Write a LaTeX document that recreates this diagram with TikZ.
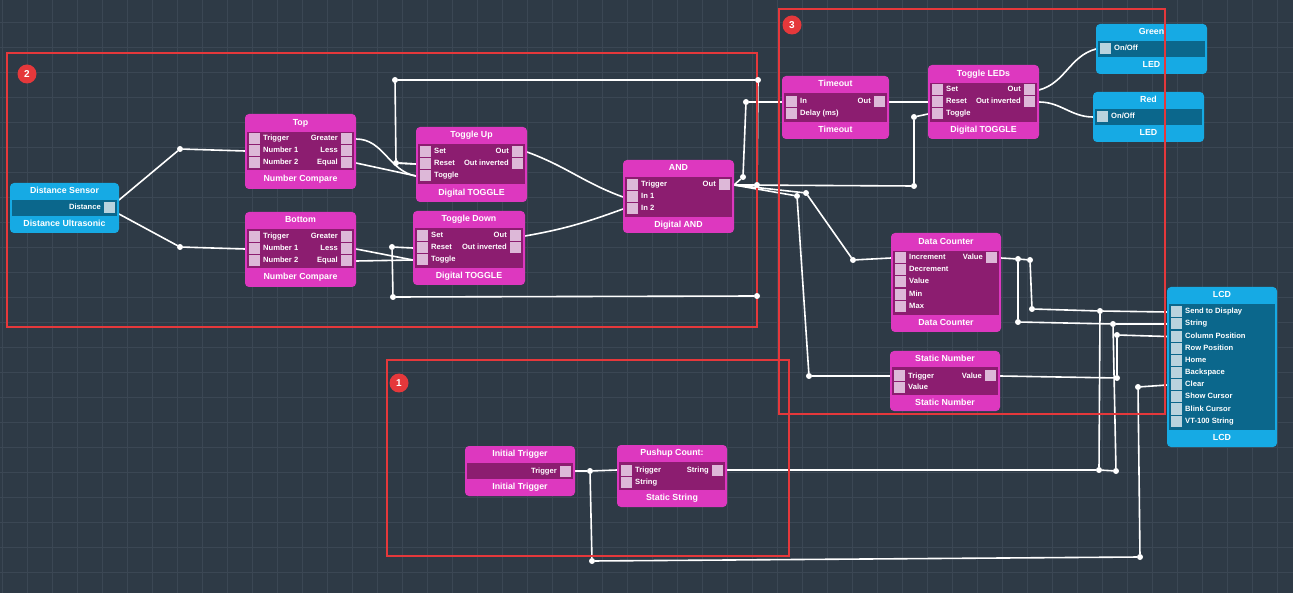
\documentclass[tikz,border=0pt]{standalone}
\usepackage{fontspec}
\setmainfont{Liberation Sans}
\usetikzlibrary{fit}
\definecolor{bgc}{HTML}{2E3A46}
\definecolor{gridc}{HTML}{3B4754}
\definecolor{magA}{HTML}{DD38BF}
\definecolor{magB}{HTML}{8C1D70}
\definecolor{magP}{HTML}{DDB8D8}
\definecolor{bluA}{HTML}{16AAE4}
\definecolor{bluB}{HTML}{0B678C}
\definecolor{bluP}{HTML}{B9D3DE}
\definecolor{framec}{HTML}{E5383B}
\pgfdeclarelayer{bg}
\pgfdeclarelayer{wires}
\pgfdeclarelayer{frames}
\pgfdeclarelayer{dots}
\pgfsetlayers{bg,wires,main,frames,dots}
\tikzset{
  boxnode/.style={inner sep=0pt, rounded corners=4pt},
  titletxt/.style={text=white, font=\bfseries\fontsize{8.8}{10}\selectfont, inner sep=0pt, text height=6.4pt, text depth=1.8pt},
  portlbl/.style={text=white, font=\bfseries\fontsize{7.6}{9}\selectfont, inner sep=0pt, text height=5.6pt, text depth=1.6pt},
  portsq/.style={inner sep=0pt, minimum size=11pt, fill=portc},
  wire/.style={draw=white, line width=1.6pt, line join=round, line cap=round},
  jdot/.style={circle, fill=white, inner sep=0pt, minimum size=6pt},
  redframe/.style={draw=framec, line width=2.6pt},
  badge/.style={circle, fill=framec, text=white, font=\bfseries\fontsize{10}{12}\selectfont, minimum size=19pt, inner sep=0pt},
}
\newcommand\mkblock[9]{%
  \node[boxnode, fill=boxc, fit={(#2,#3)(#4,#5)}] (#1) {};
  \fill[bandc] (#2+2,#8) rectangle (#4-2.5,#9);
  \node[titletxt] (#1-t) at ({(#2+#4)/2},{(#3+#8)/2}) {#6};
  \node[titletxt] (#1-f) at ({(#2+#4)/2},{(#9+#5)/2}) {#7};
}
\newcommand\inport[4]{%
  \node[portsq] (#1-sq) at (#2+9.5,#3) {};
  \node[portlbl, anchor=west] (#1-lbl) at (#2+18,#3) {#4};
  \coordinate (#1) at (#2,#3);
}
\newcommand\outport[4]{%
  \node[portsq] (#1-sq) at (#2-9.5,#3) {};
  \node[portlbl, anchor=east] (#1-lbl) at (#2-18,#3) {#4};
  \coordinate (#1) at (#2,#3);
}
\begin{document}
\begin{tikzpicture}[x=1pt,y=-1pt]
\useasboundingbox (0,0) rectangle (1293,593);
\begin{pgfonlayer}{bg}
  \fill[bgc] (0,0) rectangle (1293,593);
  \foreach \gx in {2,27,...,1293} \draw[gridc, line width=0.6pt] (\gx,0) -- (\gx,593);
  \foreach \gy in {22,47,...,593} \draw[gridc, line width=0.6pt] (0,\gy) -- (1293,\gy);
\end{pgfonlayer}

% ---------- magenta blocks ----------
\colorlet{boxc}{magA}\colorlet{bandc}{magB}\colorlet{portc}{magP}
\mkblock{top}{245}{114}{356}{189}{Top}{Number Compare}{132}{170}
\inport{top-trigger}{245}{139}{Trigger}
\inport{top-n1}{245}{151}{Number 1}
\inport{top-n2}{245}{163}{Number 2}
\outport{top-greater}{356}{139}{Greater}
\outport{top-less}{356}{151}{Less}
\outport{top-equal}{356}{163}{Equal}

\mkblock{bottom}{245}{212}{356}{287}{Bottom}{Number Compare}{229}{268}
\inport{bottom-trigger}{245}{237}{Trigger}
\inport{bottom-n1}{245}{249}{Number 1}
\inport{bottom-n2}{245}{261}{Number 2}
\outport{bottom-greater}{356}{237}{Greater}
\outport{bottom-less}{356}{249}{Less}
\outport{bottom-equal}{356}{261}{Equal}

\mkblock{togup}{416}{127}{527}{202}{Toggle Up}{Digital TOGGLE}{144}{184}
\inport{togup-set}{416}{152}{Set}
\inport{togup-reset}{416}{164}{Reset}
\inport{togup-toggle}{416}{176}{Toggle}
\outport{togup-out}{527}{152}{Out}
\outport{togup-outinv}{527}{164}{Out inverted}

\mkblock{togdown}{413}{211}{525}{285}{Toggle Down}{Digital TOGGLE}{228}{268}
\inport{togdown-set}{413}{236}{Set}
\inport{togdown-reset}{413}{248}{Reset}
\inport{togdown-toggle}{413}{260}{Toggle}
\outport{togdown-out}{525}{236}{Out}
\outport{togdown-outinv}{525}{248}{Out inverted}

\mkblock{and}{623}{160}{734}{233}{AND}{Digital AND}{177}{217}
\inport{and-trigger}{623}{185}{Trigger}
\inport{and-in1}{623}{197}{In 1}
\inport{and-in2}{623}{209}{In 2}
\outport{and-out}{734}{185}{Out}

\mkblock{timeout}{782}{76}{889}{139}{Timeout}{Timeout}{93}{122}
\inport{timeout-in}{782}{102}{In}
\inport{timeout-delay}{782}{114}{Delay (ms)}
\outport{timeout-out}{889}{102}{Out}

\mkblock{togled}{928}{65}{1039}{139}{Toggle LEDs}{Digital TOGGLE}{83}{122}
\inport{togled-set}{928}{90}{Set}
\inport{togled-reset}{928}{102}{Reset}
\inport{togled-toggle}{928}{114}{Toggle}
\outport{togled-out}{1039}{90}{Out}
\outport{togled-outinv}{1039}{102}{Out inverted}

\mkblock{datacnt}{891}{233}{1001}{332}{Data Counter}{Data Counter}{251}{315}
\inport{datacnt-inc}{891}{258}{Increment}
\inport{datacnt-dec}{891}{270}{Decrement}
\inport{datacnt-val}{891}{282}{Value}
\inport{datacnt-min}{891}{295}{Min}
\inport{datacnt-max}{891}{307}{Max}
\outport{datacnt-value}{1001}{258}{Value}

\mkblock{staticnum}{890}{351}{1000}{411}{Static Number}{Static Number}{367}{395}
\inport{static-trigger}{890}{376}{Trigger}
\inport{static-val}{890}{388}{Value}
\outport{static-value}{1000}{376}{Value}

\mkblock{inittrig}{465}{446}{575}{496}{Initial Trigger}{Initial Trigger}{463}{479}
\outport{inittrig-trigger}{575}{471}{Trigger}

\mkblock{pushup}{617}{445}{727}{507}{Pushup Count:}{Static String}{462}{490}
\inport{pushup-trigger}{617}{470}{Trigger}
\inport{pushup-str}{617}{482}{String}
\outport{pushup-string}{727}{470}{String}

% ---------- blue blocks ----------
\colorlet{boxc}{bluA}\colorlet{bandc}{bluB}\colorlet{portc}{bluP}
\mkblock{dist}{10}{183}{119}{233}{Distance Sensor}{Distance Ultrasonic}{200}{216}
\outport{dist-distance}{119}{208}{Distance}

\mkblock{ledgreen}{1096}{24}{1207}{74}{Green}{LED}{41}{57}
\inport{green-onoff}{1096}{49}{On/Off}

\mkblock{ledred}{1093}{92}{1204}{142}{Red}{LED}{109}{125}
\inport{red-onoff}{1093}{117}{On/Off}

\mkblock{lcd}{1167}{287}{1277}{447}{LCD}{LCD}{304}{430}
\inport{lcd-send}{1167}{312}{Send to Display}
\inport{lcd-string}{1167}{324}{String}
\inport{lcd-colpos}{1167}{336.5}{Column Position}
\inport{lcd-rowpos}{1167}{349}{Row Position}
\inport{lcd-home}{1167}{361}{Home}
\inport{lcd-back}{1167}{373}{Backspace}
\inport{lcd-clear}{1167}{385}{Clear}
\inport{lcd-show}{1167}{397}{Show Cursor}
\inport{lcd-blink}{1167}{409}{Blink Cursor}
\inport{lcd-vt}{1167}{421}{VT-100 String}

% ---------- junction dots ----------
\begin{pgfonlayer}{dots}
\foreach \jn/\jx/\jy in {j1/180/149, j2/180/247, j3/396/163, j4/395/80, j5/758/80,
  j6/757/185, j7/392/247, j8/393/297, j9/757/296, j10/743/177, j11/746/102,
  j12/914/186, j13/914/117, j14/806/193, j15/853/260, j16/797/196, j17/809/376,
  j18/1018/259, j19/1018/322, j20/1113/324, j21/1030/260, j22/1032/309,
  j23/1100/311, j24/1099/470, j25/1116/471, j26/1117/378, j27/1117/335,
  j28/590/471, j29/592/561, j30/1140/557, j31/1138/387}
  \node[jdot] (\jn) at (\jx,\jy) {};
\end{pgfonlayer}

% ---------- wires ----------
\begin{pgfonlayer}{wires}
\draw[wire] ([yshift=8pt]dist-distance) -- (j1) -- (top-n1);
\draw[wire] ([yshift=-6pt]dist-distance) -- (j2) -- (bottom-n1);
\draw[wire] (top-greater) to[out=0,in=170] (togup-toggle);
\draw[wire] (top-equal) -- (togup-toggle);
\draw[wire] (j3) -- (togup-reset);
\draw[wire] (togup-reset) -- (j3) -- (j4) -- (j5) -- (j6) -- (and-out);
\draw[wire] (bottom-less) -- (togdown-toggle);
\draw[wire] (bottom-equal) -- (togdown-toggle);
\draw[wire] (togdown-reset) -- (j7) -- (j8) -- (j9) -- (j6);
\draw[wire] (togup-out) to[out=-20,in=160] (and-in1);
\draw[wire] (togdown-out) to[out=10,in=200] (and-in2);
\draw[wire] (and-out) -- (j10) -- (j11) -- (timeout-in);
\draw[wire] (and-out) -- (j12) -- (j13) -- (togled-toggle);
\draw[wire] (and-out) -- (j14) -- (j15) -- (datacnt-inc);
\draw[wire] (and-out) -- (j16) -- (j17) -- (static-trigger);
\draw[wire] (timeout-out) -- (togled-reset);
\draw[wire] (togled-out) to[out=15,in=195] (green-onoff);
\draw[wire] (togled-outinv) to[out=0,in=180] (red-onoff);
\draw[wire] (datacnt-value) -- (j18) -- (j21) -- (j22) -- (j23) -- (lcd-send);
\draw[wire] (j18) -- (j19) -- (j20) -- (lcd-string);
\draw[wire] (pushup-string) -- (j24) -- (j25);
\draw[wire] (j24) -- (j23);
\draw[wire] (j25) -- (j20);
\draw[wire] (static-value) -- (j26) -- (j27) -- (lcd-colpos);
\draw[wire] (inittrig-trigger) -- (j28) -- (pushup-trigger);
\draw[wire] (j28) -- (j29) -- (j30) -- (j31) -- (lcd-clear);
\end{pgfonlayer}

% ---------- red frames and badges ----------
\begin{pgfonlayer}{frames}
\draw[redframe] (7,53) rectangle (757,327);
\draw[redframe] (779,9) rectangle (1165,414);
\draw[redframe] (387,360) rectangle (789,556);
\end{pgfonlayer}
\begin{pgfonlayer}{dots}
\node[badge] (badge2) at (27,74) {2};
\node[badge] (badge3) at (792,25) {3};
\node[badge] (badge1) at (399,383) {1};
\end{pgfonlayer}
\end{tikzpicture}
\end{document}
